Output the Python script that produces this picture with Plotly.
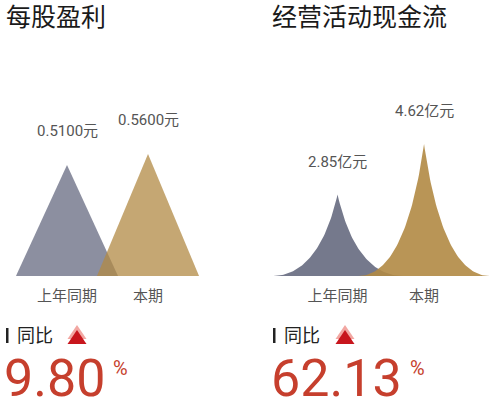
import numpy as np
import plotly.graph_objects as go

# data
periods = ["上年同期", "本期"]
eps = [0.51, 0.56]
eps_text = ["0.5100元", "0.5600元"]
cash_flow = [2.85, 4.62]
cash_text = ["2.85亿元", "4.62亿元"]
eps_yoy = "9.80"
cash_yoy = "62.13"

grey = "102,106,128"
gold = "177,137,68"
FONT = "Roboto, Noto Sans CJK SC, sans-serif"
W, H = 500, 409


def triangle(i, v, hw):
    return [i - hw, i, i + hw, i - hw], [0, v, 0, 0]


def spike(i, v, hw, n=60):
    # cubic bezier from base corner up to the tip, mirrored for the left side
    t = np.linspace(0, 1, n)
    p = np.array([[1, 0], [0.55, 0], [0.2, 0.3], [0, 1]])
    b = ((1 - t) ** 3)[:, None] * p[0] + (3 * (1 - t) ** 2 * t)[:, None] * p[1] \
        + (3 * (1 - t) * t ** 2)[:, None] * p[2] + (t ** 3)[:, None] * p[3]
    bx = np.concatenate([b[:, 0], -b[::-1, 0]])
    by = np.concatenate([b[:, 1], b[::-1, 1]])
    return i + hw * bx, v * by


fig = go.Figure()

cols = [grey, gold]
for i, v in enumerate(eps):
    xs, ys = triangle(i, v, 0.63)
    fig.add_trace(go.Scatter(x=xs, y=ys, fill="toself", mode="lines", line=dict(width=0),
                             fillcolor="rgba(%s,0.75)" % cols[i], hoverinfo="skip",
                             xaxis="x", yaxis="y"))
    fig.add_annotation(x=i, y=v, xref="x", yref="y", text=eps_text[i], showarrow=False,
                       yanchor="bottom", yshift=23, font=dict(size=15, color="#555"))

for i, v in enumerate(cash_flow):
    xs, ys = spike(i, v, 0.76)
    fig.add_trace(go.Scatter(x=xs, y=ys, fill="toself", mode="lines", line=dict(width=0),
                             fillcolor="rgba(%s,0.9)" % cols[i], hoverinfo="skip",
                             xaxis="x2", yaxis="y2"))
    fig.add_annotation(x=i, y=v, xref="x2", yref="y2", text=cash_text[i], showarrow=False,
                       yanchor="bottom", yshift=22, font=dict(size=15, color="#555"))


def px(x):
    return x / W


def py(y):
    return 1 - y / H


def add_text(x, y, text, size, color, xanchor="left"):
    fig.add_annotation(x=px(x), y=py(y), xref="paper", yref="paper", text=text,
                       showarrow=False, xanchor=xanchor, yanchor="middle",
                       font=dict(size=size, color=color))


def arrow(cx, y):
    for dy, c in [(-5, "#f2a7a2"), (0, "#c8161d")]:
        x0, x1, top, bot = cx - 9.5, cx + 9.5, y - 7 + dy, y + 7 + dy
        fig.add_shape(type="path", xref="paper", yref="paper", line=dict(width=0), fillcolor=c,
                      path="M %f,%f L %f,%f L %f,%f Z" % (px(x0), py(bot), px(x1), py(bot), px(cx), py(top)))


# titles
add_text(4, 18, "每股盈利", 25, "#1a1a1a")
add_text(270, 18, "经营活动现金流", 25, "#1a1a1a")

# year on year blocks
for x0, val, ax, pct in [(4, eps_yoy, 77, 111), (271, cash_yoy, 345, 408)]:
    fig.add_shape(type="rect", xref="paper", yref="paper", line=dict(width=0), fillcolor="#222",
                  x0=px(x0 + 2), x1=px(x0 + 4.5), y0=py(343), y1=py(328))
    add_text(x0 + 11, 335, "同比", 18, "#222")
    arrow(ax, 337)
    add_text(x0 - 2, 378, val, 52, "#c63f2d")
    add_text(pct, 368, "%", 20, "#c63f2d")

axis_x = dict(showgrid=False, zeroline=False, showline=False, tickvals=[0, 1], ticktext=periods,
              ticks="outside", ticklen=6, tickcolor="rgba(0,0,0,0)",
              tickfont=dict(size=15, color="#555"), fixedrange=True)
base = (H - 276) / H

fig.update_layout(
    width=W, height=H, margin=dict(l=0, r=0, t=0, b=0),
    paper_bgcolor="white", plot_bgcolor="white", showlegend=False,
    font=dict(family=FONT),
    xaxis=dict(axis_x, domain=[0, 0.5], range=[-0.827, 2.259], anchor="y"),
    yaxis=dict(domain=[base, 1], range=[0, 1.268], visible=False),
    xaxis2=dict(axis_x, domain=[0.5, 1], range=[-1.012, 1.878], anchor="y2"),
    yaxis2=dict(domain=[base, 1], range=[0, 9.66], visible=False),
)

fig.write_html("out.html", config={"displayModeBar": False},
               post_script="document.body.style.margin='0';")
